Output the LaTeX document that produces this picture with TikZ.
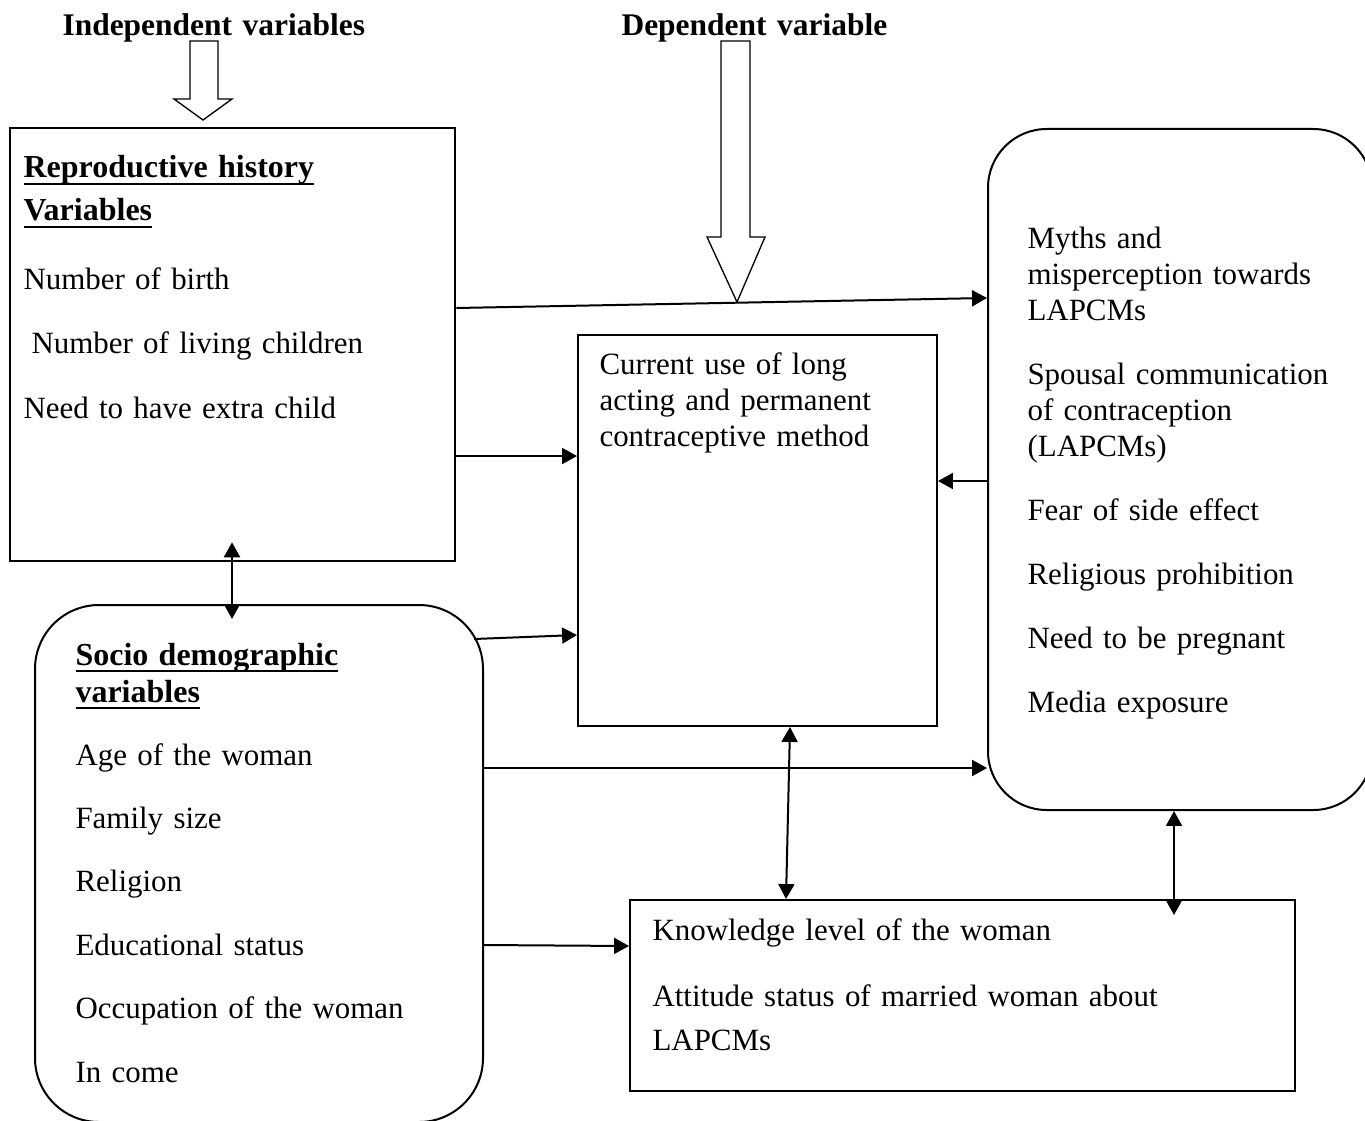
\documentclass[tikz,border=0pt]{standalone}
\usepackage{fontspec}
\setmainfont{Liberation Serif}
\usetikzlibrary{arrows.meta,fit,calc}

\newcommand{\hd}[1]{\leavevmode\setbox0=\hbox{\fontsize{12}{13.5}\selectfont\textbf{#1}}\rlap{\vrule height -1.9pt depth 2.65pt width \wd0}\box0}

\begin{document}
\begin{tikzpicture}[
   x=0.375pt,y=-0.375pt,
   font=\fontsize{11.6}{13.5}\selectfont,
   box/.style={draw,line width=0.75pt,inner sep=0pt},
   rbox/.style={box,rounded corners=24pt},
   txt/.style={anchor=base west,inner sep=0pt,text width=200pt},
   title/.style={txt,font=\fontsize{11.8}{13.5}\selectfont\bfseries},
   hollow/.style={draw,line width=0.5pt,fill=white},
   to/.style={-{Triangle[length=5.6pt,width=6pt]},line width=0.75pt},
   tofro/.style={{Triangle[length=5.6pt,width=6pt]}-{Triangle[length=5.6pt,width=6pt]},line width=0.75pt}]
\useasboundingbox (0,0) rectangle (1365,1120);
% headings
\node[title] (IV) at (62,36) {Independent variables};
\node[title] (DV) at (621,36) {Dependent variable};
\draw[hollow] (190,41) -- (218,41) -- (218,99) -- (232,99) -- (203,120) -- (174,99) -- (190,99) -- cycle;
\draw[hollow] (721,41) -- (750,41) -- (750,237) -- (765,237) -- (737,302) -- (707,237) -- (721,237) -- cycle;
% boxes
\node[box,line width=1pt,fit={(10,128) (455,561)}] (RH) {};
\node[box,fit={(578,335) (937,726)}] (CU) {};
\node[rbox,rounded corners=22pt,fit={(988,129) (1372,810)}] (MY) {};
\node[rbox,fit={(35,605) (483,1122)}] (SD) {};
\node[box,fit={(630,900) (1295,1091)}] (KN) {};
% texts
\node[txt] (RHt) at (23,178) {\hd{Reproductive history}\\[2.6pt]
  \hd{Variables}\\[12.4pt]
  Number of birth\\[10.5pt]
  \hspace*{3pt}Number of living children\\[10.5pt]
  Need to have extra child};
\node[txt] (CUt) at (599,374) {Current use of long\\ acting and permanent\\ contraceptive method};
\node[txt] (MYt) at (1027,248) {Myths and\\ misperception towards\\ LAPCMs\\[10.5pt]
  Spousal communication\\ of contraception\\ (LAPCMs)\\[10.5pt]
  Fear of side effect\\[10.5pt]
  Religious prohibition\\[10.5pt]
  Need to be pregnant\\[10.5pt]
  Media exposure};
\node[txt] (SDt) at (75,665) {\hd{Socio demographic}\\[0.4pt]
  \hd{variables}\\[10.1pt]
  Age of the woman\\[10.3pt]
  Family size\\[10.3pt]
  Religion\\[10.3pt]
  Educational status\\[10.3pt]
  Occupation of the woman\\[10.3pt]
  In come};
\node[txt] (KNt) at (652,940) {Knowledge level of the woman\\[11.6pt]
  Attitude status of married woman about\\[3pt]
  LAPCMs};
% connectors
\draw[to] (RH.east |- 0,308) -- (MY.west |- 0,298);
\draw[to] (RH.east |- 0,456) -- (CU.west |- 0,456);
\draw[to] (MY.west |- 0,481) -- (CU.east |- 0,481);
\draw[tofro,shorten <=-7.5pt,shorten >=-5.6pt] (RH.south -| 232,0) -- (SD.north -| 232,0);
\draw[to] ($(SD.east |- 0,639)+(-10,0)$) -- (CU.west |- 0,635);
\draw[to] (SD.east |- 0,768) -- (MY.west |- 0,768);
\draw[to] (SD.east |- 0,945) -- (KN.west |- 0,946);
\draw[tofro] (CU.south -| 790,0) -- (KN.north -| 786,0);
\draw[tofro,shorten >=-6pt] (MY.south -| 1174,0) -- (KN.north -| 1174,0);
\end{tikzpicture}
\end{document}
